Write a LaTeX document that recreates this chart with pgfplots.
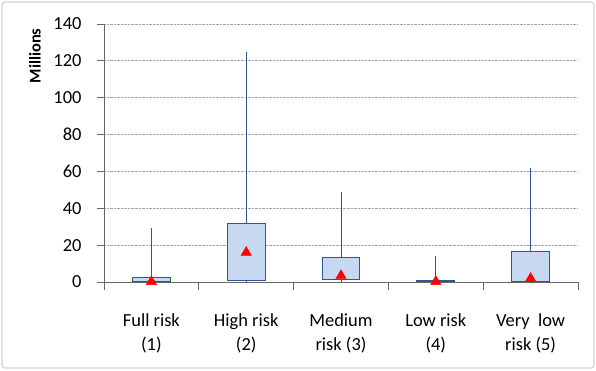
\documentclass[border=0pt]{standalone}
\usepackage{pgfplots}
\pgfplotsset{compat=1.18}
\usepgfplotslibrary{statistics}
\usepackage{fontspec}
\setmainfont{Carlito}
\definecolor{boxfill}{HTML}{C6D9F0}
\definecolor{boxedge}{HTML}{385D8A}
\definecolor{whisk}{HTML}{2F5597}
\begin{document}
\begin{tikzpicture}[x=1bp,y=1bp]
\useasboundingbox (0,0) rectangle (596,370);
\draw[gray!35, line width=1.2bp, rounded corners=3bp] (2,2) rectangle (594,368);
\begin{axis}[
  at={(104bp,88bp)}, anchor=south west,
  scale only axis, width=474bp, height=258bp,
  xmin=0.5, xmax=5.5, ymin=0, ymax=140,
  clip=false,
  axis lines*=left,
  axis line style={gray!80!black, line width=0.8bp},
  ytick={0,20,...,140},
  ymajorgrids,
  grid style={gray!70, densely dotted, line width=0.8bp},
  tick align=outside,
  major tick length=7bp,
  minor tick length=8bp,
  tick style={gray!80!black, line width=0.8bp},
  xtick={1,...,5},
  major x tick style={draw=none},
  minor xtick={0.5,1.5,...,5.5},
  xticklabels={{Full risk\\(1)},{High risk\\(2)},{Medium\\risk (3)},{Low risk\\(4)},{Very\ \ low\\risk (5)}},
  xticklabel style={align=center, font=\fontsize{18.5}{24}\selectfont, yshift=-21bp},
  yticklabel style={font=\fontsize{18.5}{22}\selectfont, xshift=-12bp},
  /pgf/number format/assume math mode=true,
  boxplot/draw direction=y,
  boxplot/box extend=0.4,
  boxplot/whisker extend=0,
]
\addplot[boxplot prepared={draw position=1, lower whisker=0, lower quartile=0.2, median=0.2, upper quartile=2.2, upper whisker=29.5},
  draw=whisk, fill=boxfill, line width=1bp] coordinates {};
\addplot[boxplot prepared={draw position=2, lower whisker=0, lower quartile=1.0, median=1.0, upper quartile=31.6, upper whisker=124.6},
  draw=whisk, fill=boxfill, line width=1bp] coordinates {};
\addplot[boxplot prepared={draw position=3, lower whisker=0, lower quartile=1.6, median=1.6, upper quartile=13.2, upper whisker=48.8},
  draw=whisk, fill=boxfill, line width=1bp] coordinates {};
\addplot[boxplot prepared={draw position=4, lower whisker=0, lower quartile=0.2, median=0.2, upper quartile=0.9, upper whisker=14.1},
  draw=whisk, fill=boxfill, line width=1bp] coordinates {};
\addplot[boxplot prepared={draw position=5, lower whisker=0, lower quartile=0.3, median=0.3, upper quartile=16.4, upper whisker=61.8},
  draw=whisk, fill=boxfill, line width=1bp] coordinates {};
\addplot[only marks, mark=triangle*, mark size=6bp, color=red] coordinates {(1,0.2) (2,16.0) (3,3.4) (4,0.2) (5,1.9)};
\end{axis}
\node[rotate=90, font=\bfseries\fontsize{16.5}{20}\selectfont] at (35,314) {Millions};
\end{tikzpicture}
\end{document}
